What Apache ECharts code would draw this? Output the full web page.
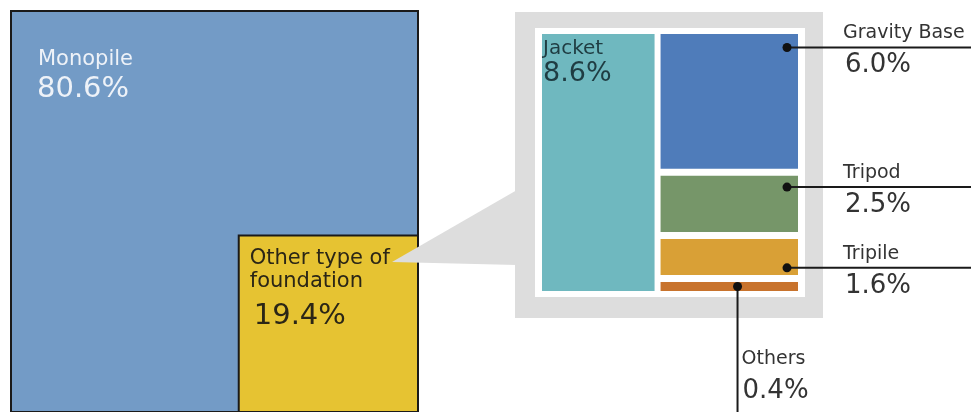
<!DOCTYPE html>
<html><head><meta charset="utf-8">
<script src="https://cdn.jsdelivr.net/npm/echarts@6/dist/echarts.min.js"></script>
<style>html,body{margin:0;padding:0;background:#fff}#c{width:971px;height:412px}</style>
</head><body><div id="c"></div>
<script>
// ---------- data ----------
const mainCategories = ['Monopile', 'Other type of foundation'];
const mainShares = [80.6, 19.4];
const insetCategories = ['Jacket', 'Gravity Base', 'Tripod', 'Tripile', 'Others'];
const insetShares = [8.6, 6.0, 2.5, 1.6, 0.4];

// ---------- styles / layout ----------
const FONT = '"DejaVu Sans", Verdana, sans-serif';
const mainColors = ['#739bc6', '#e6c332'];
const insetColors = ['#6fb8bf', '#4f7cba', '#769669', '#d9a036', '#c8732d'];
const MAIN = {left: 11, top: 11, size: 407};
const INSET = {left: 542, top: 34, width: 256, height: 257};
const GAP_X = 6, GAP_Y = 7;
const callouts = {
  'Gravity Base': {fx: 0.92, fy: 0.10, dir: 'right'},
  'Tripod': {fx: 0.92, fy: 0.20, dir: 'right'},
  'Tripile': {fx: 0.92, fy: 0.80, dir: 'right'},
  'Others': {fx: 0.56, fy: 0.50, dir: 'down'}
};

// ---------- build main data (nested squares, area ~ share) ----------
const total = mainShares.reduce((a, b) => a + b, 0);
const side = Math.sqrt(total);
const otherSide = Math.sqrt(mainShares[1]);
const mainData = [
  {name: mainCategories[0], value: [0, side, 0, side, mainShares[0]]},
  {name: mainCategories[1], value: [side - otherSide, side, 0, otherSide, mainShares[1]]}
];

// ---------- build inset data (Jacket column + stacked column of the rest) ----------
const insetTotal = insetShares.reduce((a, b) => a + b, 0);
const rest = insetTotal - insetShares[0];
const gx = GAP_X * insetTotal / (INSET.width - GAP_X);
const nRest = insetShares.length - 1;
const gy = GAP_Y * rest / (INSET.height - (nRest - 1) * GAP_Y);
const xMax = insetTotal + gx;
const yMax = rest + (nRest - 1) * gy;
const insetData = [{name: insetCategories[0], value: [0, insetShares[0], 0, yMax, insetShares[0]]}];
let cum = 0;
for (let i = 1; i < insetShares.length; i++) {
  insetData.push({name: insetCategories[i],
    value: [insetShares[0] + gx, xMax, cum, cum + insetShares[i], insetShares[i]]});
  cum += insetShares[i] + gy;
}

function txt(text, x, y, size, fill) {
  return {type: 'text', style: {text: text, x: x, y: y, font: size + 'px ' + FONT,
    fill: fill, align: 'left', verticalAlign: 'middle'}};
}

const chart = echarts.init(document.getElementById('c'), null, {renderer: 'canvas'});
chart.setOption({
  backgroundColor: '#ffffff',
  animation: false,
  grid: [
    {left: MAIN.left, top: MAIN.top, width: MAIN.size, height: MAIN.size},
    {left: INSET.left, top: INSET.top, width: INSET.width, height: INSET.height}
  ],
  xAxis: [
    {type: 'value', gridIndex: 0, min: 0, max: side, show: false},
    {type: 'value', gridIndex: 1, min: 0, max: xMax, show: false}
  ],
  yAxis: [
    {type: 'value', gridIndex: 0, min: 0, max: side, show: false},
    {type: 'value', gridIndex: 1, min: 0, max: yMax, inverse: true, show: false}
  ],
  graphic: [
    {type: 'rect', z: 0, shape: {x: 515, y: 12, width: 308, height: 306}, style: {fill: '#dddddd'}},
    {type: 'rect', z: 0, shape: {x: 535, y: 28, width: 270, height: 269}, style: {fill: '#ffffff'}},
    {type: 'polygon', z: 10, shape: {points: [[392, 262], [517, 190], [517, 265]]}, style: {fill: '#dddddd'}}
  ],
  series: [
    {
      type: 'custom', xAxisIndex: 0, yAxisIndex: 0, z: 2,
      encode: {x: [0, 1], y: [2, 3]},
      data: mainData,
      renderItem: function (params, api) {
        const p0 = api.coord([api.value(0), api.value(3)]);
        const p1 = api.coord([api.value(1), api.value(2)]);
        const i = params.dataIndex;
        const pct = api.value(4).toFixed(1) + '%';
        const children = [{type: 'rect', shape: {x: p0[0], y: p0[1], width: p1[0] - p0[0], height: p1[1] - p0[1]},
          style: {fill: mainColors[i], stroke: '#1a1a1a', lineWidth: 2}}];
        if (i === 0) {
          children.push(txt('Monopile', p0[0] + 27, p0[1] + 48.5, 21, '#eef2f8'));
          children.push(txt(pct, p0[0] + 26, p0[1] + 78, 29, '#eef2f8'));
        } else {
          children.push(txt('Other type of', p0[0] + 11, p0[1] + 23, 21, '#2b2616'));
          children.push(txt('foundation', p0[0] + 11, p0[1] + 46, 21, '#2b2616'));
          children.push(txt(pct, p0[0] + 15, p0[1] + 81, 29, '#2b2616'));
        }
        return {type: 'group', children: children};
      }
    },
    {
      type: 'custom', xAxisIndex: 1, yAxisIndex: 1, z: 3,
      encode: {x: [0, 1], y: [2, 3]},
      data: insetData,
      renderItem: function (params, api) {
        const p0 = api.coord([api.value(0), api.value(2)]);
        const p1 = api.coord([api.value(1), api.value(3)]);
        const i = params.dataIndex;
        const name = insetCategories[i];
        const pct = api.value(4).toFixed(1) + '%';
        const w = p1[0] - p0[0], h = p1[1] - p0[1];
        const children = [{type: 'rect', shape: {x: p0[0], y: p0[1], width: w, height: h},
          style: {fill: insetColors[i]}}];
        if (i === 0) {
          children.push(txt(name, p0[0] + 1, p0[1] + 14.5, 20, '#1f3c42'));
          children.push(txt(pct, p0[0] + 1, p0[1] + 40, 27, '#1f3c42'));
        } else {
          const c = callouts[name];
          const dx = p0[0] + c.fx * w, dy = p0[1] + c.fy * h;
          if (c.dir === 'right') {
            children.push({type: 'line', shape: {x1: dx, y1: dy, x2: api.getWidth(), y2: dy},
              style: {stroke: '#1a1a1a', lineWidth: 2}});
            children.push(txt(name, dx + 56, dy - 14, 19, '#333333'));
            children.push(txt(pct, dx + 58, dy + 18, 26, '#333333'));
          } else {
            children.push({type: 'line', shape: {x1: dx, y1: dy, x2: dx, y2: api.getHeight()},
              style: {stroke: '#1a1a1a', lineWidth: 2}});
            children.push(txt(name, dx + 4, dy + 72.5, 19, '#333333'));
            children.push(txt(pct, dx + 5, dy + 104.5, 26, '#333333'));
          }
          children.push({type: 'circle', shape: {cx: dx, cy: dy, r: 4.5}, style: {fill: '#111111'}});
        }
        return {type: 'group', children: children};
      }
    }
  ]
});
</script>
</body></html>
